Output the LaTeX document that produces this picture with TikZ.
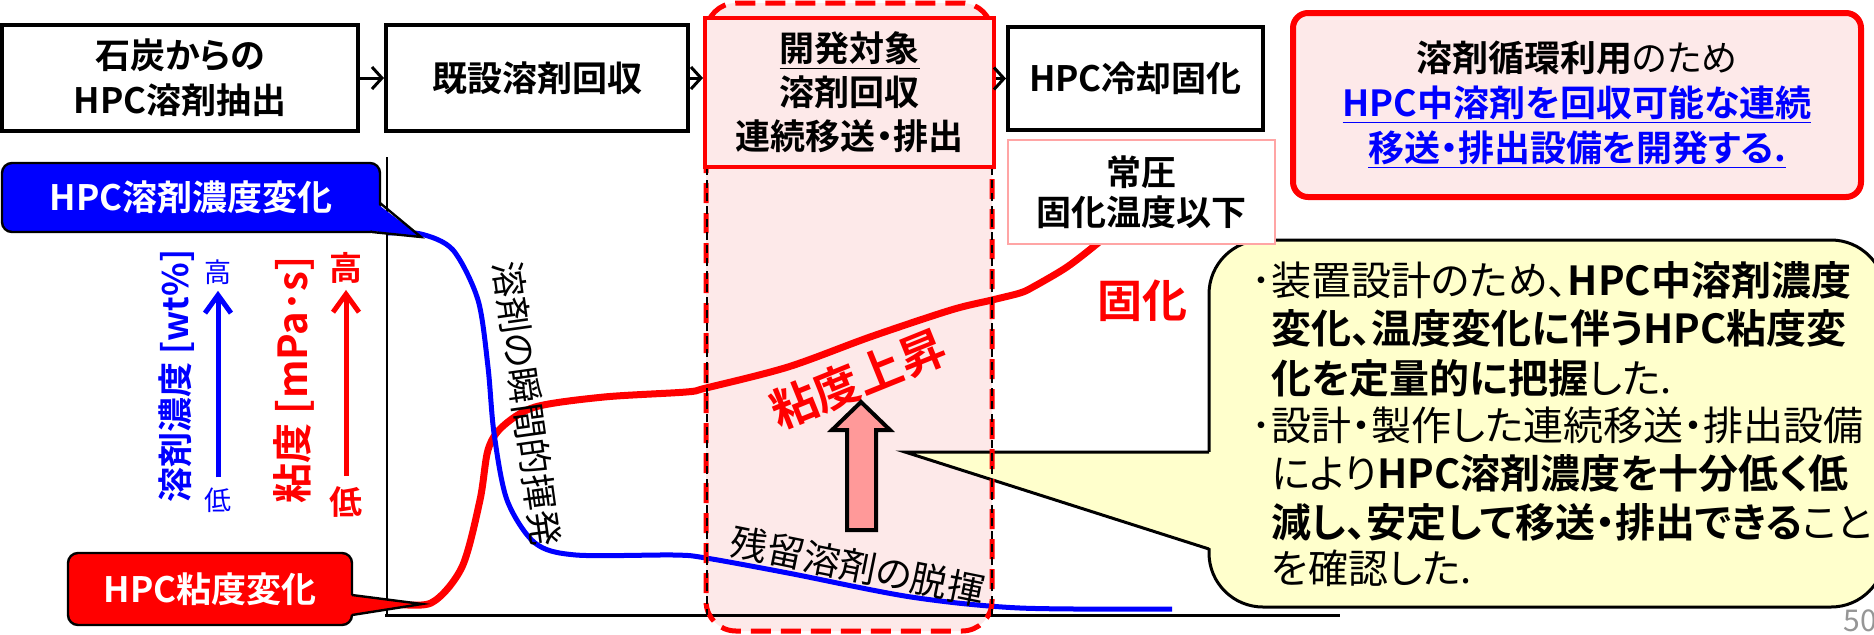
\documentclass[tikz,border=0pt]{standalone}
\usepackage{fontspec}
\setmainfont{Noto Sans CJK JP}[BoldFont={Noto Sans CJK JP Bold}, RawFeature=+palt]
\usetikzlibrary{arrows.meta}
\definecolor{pinkbg}{RGB}{253,233,233}
\definecolor{yel}{RGB}{255,255,204}
\definecolor{arrpink}{RGB}{255,153,153}
\definecolor{lightred}{RGB}{255,165,165}
\definecolor{pgnum}{RGB}{150,150,150}
\newcommand{\setfs}[2]{\fontsize{#1}{#2}\selectfont}
\begin{document}
\begin{tikzpicture}[x=0.5pt,y=-0.5pt,
  flowbox/.style={draw=black, line width=2pt, fill=white, align=center, inner sep=0pt, font=\bfseries\setfs{17.5pt}{22.5pt}},
  flowarr/.style={line width=1.5pt, -{Straight Barb[length=5pt,width=11pt]}},
  axarr/.style={line width=2.5pt, -{Straight Barb[length=9pt,width=13pt]}, shorten <=5pt, shorten >=3pt},
  calltxt/.style={white, font=\bfseries\setfs{17.5pt}{18pt}, inner sep=0pt},
  ytxt/.style={anchor=west, inner sep=0pt, font=\setfs{20pt}{20pt}},
  blackdash/.style={black, line width=0.8pt, dash pattern=on 4pt off 2.5pt},
]
\useasboundingbox (0,0) rectangle (1874,634);

% pink development column
\fill[pinkbg, rounded corners=15pt] (706,3) rectangle (992,631);

% axes
\draw[line width=1pt] (387,157) -- (387,615);
\draw[line width=1.5pt] (385,615) -- (1340,615);

% curves
\draw[red, line width=3.5pt, line cap=round] plot[smooth, tension=0.5] coordinates {
 (388,603) (431,603) (462,567) (480,500) (488,450) (502,427) (535,407) (604,397)
 (686,392) (706,388) (788,367) (870,337) (951,310) (992,300) (1020,293) (1033,287)
 (1067,267) (1098,243) (1110,232)};
\draw[blue, line width=2.5pt] plot[smooth, tension=0.5] coordinates {
 (388,233) (421,234) (453,250) (478,300) (488,367) (494,433) (507,500) (535,543)
 (576,555) (674,555) (706,558) (788,573) (911,597) (1020,608) (1172,609)};

% texts on the curves
\node[rotate=-82, font=\setfs{18pt}{18pt}, inner sep=0pt] (volat) at (527,404) {溶剤の瞬間的揮発};
\node[rotate=-11.4, font=\setfs{18.5pt}{18pt}, inner sep=0pt] (devol) at (858,566) {残留溶剤の脱揮};
\node[rotate=22, red, font=\bfseries\setfs{23pt}{23pt}, inner sep=0pt] (visc) at (858,379) {粘度上昇};
\node[red, font=\bfseries\setfs{22.5pt}{23pt}, inner sep=0pt] (solid) at (1142,301) {固化};

% pink block arrow
\draw[fill=arrpink, line width=2pt, line join=miter]
  (847,530) -- (847,430) -- (832,430) -- (861,402) -- (890,430) -- (876,430) -- (876,530) -- cycle;

% yellow callout
\draw[fill=yel, line width=1.5pt, rounded corners=27pt] (1209,240) rectangle (1885,607);
\fill[yel] (905,452) -- (1213,452) -- (1213,549) -- cycle;
\draw[line width=1.5pt, line join=miter] (1209,452) -- (905,452) -- (1209,549);

\node[ytxt] (l1) at (1251,280) {･装置設計のため、{\bfseries HPC中溶剤濃度}};
\node[ytxt] (l2) at (1271,328) {{\bfseries 変化、温度変化に伴うHPC粘度変}};
\node[ytxt] (l3) at (1271,378) {{\bfseries 化を定量的に把握}した.};
\node[ytxt] (l4) at (1251,425) {･設計・製作した連続移送・排出設備};
\node[ytxt] (l5) at (1271,473) {により{\bfseries HPC溶剤濃度を十分低く低}};
\node[ytxt] (l6) at (1271,522) {{\bfseries 減し、安定して移送・排出できる}こと};
\node[ytxt] (l7) at (1271,568) {を確認した.};

% dashed outlines of the development column
\draw[red, line width=2.5pt, dash pattern=on 10pt off 5pt, rounded corners=15pt] (706,3) rectangle (992,631);
\draw[blackdash] (707,167) -- (707,615);
\draw[blackdash] (992,167) -- (992,615);

% blue callout
\draw[fill=blue, line width=1.2pt, rounded corners=5pt] (2,163) rectangle (380,232);
\fill[blue] (376,203) -- (421,237) -- (372,231) -- cycle;
\draw[line width=1.2pt] (380,203) -- (421,237) -- (372,232);
\node[calltxt] (bcall) at (191,197) {HPC溶剤濃度変化};

% red callout
\draw[fill=red, line width=1.2pt, rounded corners=5pt] (68,553) rectangle (352,625);
\fill[red] (348,595) -- (422,604) -- (348,615) -- cycle;
\draw[line width=1.2pt] (352,595) -- (422,604) -- (352,615);
\node[calltxt] (rcall) at (210,589) {HPC粘度変化};

% axis labels
\node[rotate=90, blue, font=\bfseries\setfs{17.5pt}{18pt}, inner sep=0pt] (blab) at (177,376) {溶剤濃度 [wt\%]};
\node[blue, font=\setfs{13.5pt}{14pt}, inner sep=0pt] (bhi) at (218,272) {高};
\node[blue, font=\setfs{13.5pt}{14pt}, inner sep=0pt] (blo) at (218,500) {低};
\draw[blue, axarr] (blo) -- (bhi);
\node[rotate=90, red, font=\bfseries\setfs{20pt}{20pt}, inner sep=0pt] (rlab) at (294,380) {粘度 [mPa･s]};
\node[red, font=\bfseries\setfs{16.5pt}{17pt}, inner sep=0pt] (rhi) at (346,268) {高};
\node[red, font=\bfseries\setfs{16.5pt}{17pt}, inner sep=0pt] (rlo) at (346,502) {低};
\draw[red, axarr] (rlo) -- (rhi);

% flow boxes
\node[flowbox, minimum width=178pt, minimum height=53pt] (b1) at (180,78) {石炭からの\\HPC溶剤抽出};
\node[flowbox, minimum width=151pt, minimum height=53pt] (b2) at (537,78) {既設溶剤回収};
\node[flowbox, draw=red, fill=pinkbg, minimum width=144.5pt, minimum height=74.5pt, font=\bfseries\setfs{17.5pt}{22pt}] (dev) at (849.5,92.5) {\underline{開発対象}\\溶剤回収\\連続移送・排出};
\node[flowbox, minimum width=127.5pt, minimum height=51.5pt] (b4) at (1135.5,78.5) {HPC冷却固化};
\node[draw=lightred, line width=1pt, fill=white, align=center, inner sep=0pt, font=\bfseries\setfs{17.5pt}{20pt}, minimum width=133.5pt, minimum height=52pt] (cond) at (1141.5,192) {常圧\\固化温度以下};

\draw[flowarr] (b1) -- (b2);
\draw[flowarr] (b2.east) -- (b2.east -| dev.west);
\draw[flowarr] (b4.west -| dev.east) -- (b4.west);

% goal box
\node[draw=red, line width=3pt, fill=pinkbg, rounded corners=7.5pt, minimum width=284pt, minimum height=92pt, align=center, inner sep=0pt, font=\setfs{18pt}{22.5pt}] (goal) at (1577,105)
 {{\bfseries 溶剤循環利用}のため\\{\bfseries\color{blue}\underline{HPC中溶剤を回収可能な連続}}\\{\bfseries\color{blue}\underline{移送・排出設備を開発する.}}};

% page number
\node[pgnum, anchor=west, font=\setfs{15pt}{15pt}, inner sep=0pt] (pg) at (1843,621) {50};
\end{tikzpicture}
\end{document}
